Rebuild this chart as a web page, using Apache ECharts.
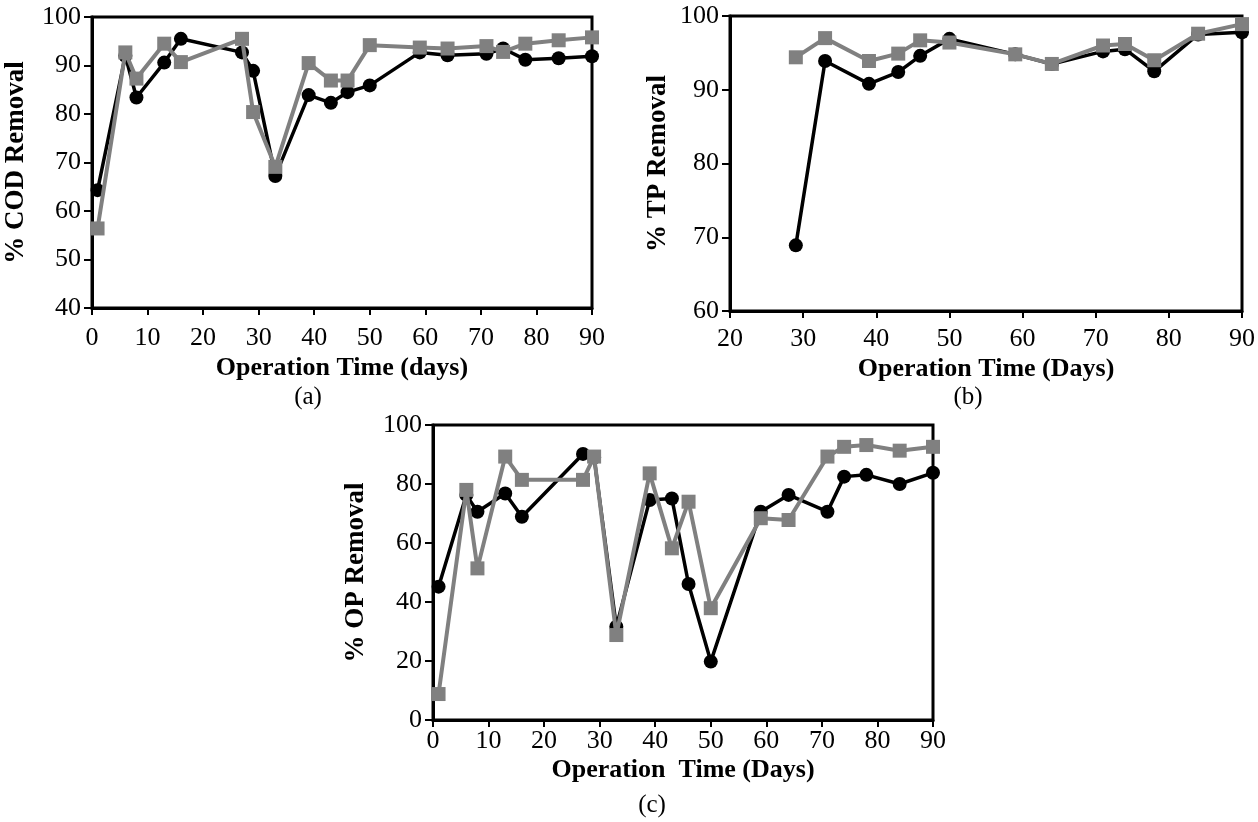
<!DOCTYPE html>
<html>
<head>
<meta charset="utf-8">
<script src="https://cdn.jsdelivr.net/npm/echarts@6/dist/echarts.min.js"></script>
<style>
html,body{margin:0;padding:0;background:#fff;}
#chart{width:1258px;height:822px;}
</style>
</head>
<body>
<div id="chart"></div>
<script>
// ---- data ----
var daysA = [1,6,8,13,16,27,29,33,39,43,46,50,59,64,71,74,78,84,90];
var codBlack = [64.3,92.0,83.4,90.6,95.5,92.7,88.9,67.2,83.9,82.3,84.5,85.9,92.7,92.1,92.4,93.5,91.2,91.5,91.9];
var codGray  = [56.4,92.7,87.3,94.5,90.7,95.5,80.4,69.1,90.5,86.9,86.9,94.2,93.7,93.5,94.0,92.8,94.5,95.2,95.8];

var daysB = [29,33,39,43,46,50,59,64,71,74,78,84,90];
var tpBlack = [68.9,93.9,90.8,92.4,94.6,96.9,94.8,93.5,95.2,95.5,92.5,97.5,97.8];
var tpGray  = [94.4,97.0,93.9,94.9,96.7,96.4,94.8,93.5,96.0,96.2,94.0,97.6,98.9];

var daysC = [1,6,8,13,16,27,29,33,39,43,46,50,59,64,71,74,78,84,90];
var opBlack = [45.2,76.3,70.6,76.8,68.9,90.2,89.0,31.6,74.6,75.1,46.1,19.8,70.6,76.3,70.6,82.5,83.1,80.0,83.8];
var opGray  = [8.8,78.0,51.4,89.3,81.4,81.4,89.3,28.8,83.6,58.2,74.0,37.9,68.4,67.8,89.3,92.6,93.2,91.3,92.6];

var xNames = ['Operation Time (days)', 'Operation Time (Days)', 'Operation  Time (Days)'];
var yNames = ['% COD Removal', '% TP Removal', '% OP Removal'];
var panelLabels = ['(a)', '(b)', '(c)'];

function pairs(xs, ys){ return xs.map(function(x,i){ return [x, ys[i]]; }); }

var SERIF = '"Liberation Serif","Times New Roman",serif';
var GRAY = '#808080';

function xAxis(idx, min, max, name, gap, margin){
  return {
    type:'value', gridIndex:idx, min:min, max:max, interval:10,
    name:name, nameLocation:'middle', nameGap:gap,
    nameTextStyle:{fontFamily:SERIF, fontWeight:'bold', fontSize:26, color:'#000'},
    axisLine:{show:true, onZero:false, lineStyle:{color:'#000', width:3}},
    axisTick:{show:true, length:7, lineStyle:{color:'#000', width:2}},
    axisLabel:{fontFamily:SERIF, fontSize:26, color:'#000', margin:margin},
    splitLine:{show:false}
  };
}
function yAxis(idx, min, max, interval, name, gap){
  return {
    type:'value', gridIndex:idx, min:min, max:max, interval:interval,
    name:name, nameLocation:'middle', nameGap:gap, nameRotate:90,
    nameTextStyle:{fontFamily:SERIF, fontWeight:'bold', fontSize:27, color:'#000'},
    axisLine:{show:true, onZero:false, lineStyle:{color:'#000', width:3}},
    axisTick:{show:true, length:8, lineStyle:{color:'#000', width:2}},
    axisLabel:{fontFamily:SERIF, fontSize:26, color:'#000', margin:11},
    splitLine:{show:false}
  };
}
function blackSeries(idx, data){
  return {type:'line', xAxisIndex:idx, yAxisIndex:idx, data:data,
    symbol:'circle', symbolSize:14, itemStyle:{color:'#000'},
    lineStyle:{color:'#000', width:3.5}, silent:true, animation:false, z:2};
}
function graySeries(idx, data){
  return {type:'line', xAxisIndex:idx, yAxisIndex:idx, data:data,
    symbol:'rect', symbolSize:14, itemStyle:{color:GRAY},
    lineStyle:{color:GRAY, width:4}, silent:true, animation:false, z:3};
}

var gridStyle = {show:true, borderColor:'#000', borderWidth:3, backgroundColor:'transparent'};

var option = {
  backgroundColor:'#fff',
  animation:false,
  grid:[
    Object.assign({left:92, top:17, width:500, height:291}, gridStyle),
    Object.assign({left:730, top:16, width:514, height:295}, gridStyle),
    Object.assign({left:433, top:425, width:500, height:295}, gridStyle)
  ],
  xAxis:[
    xAxis(0, 0, 90, xNames[0], 47, 17),
    xAxis(1, 20, 90, xNames[1], 45, 15),
    xAxis(2, 0, 90, xNames[2], 37, 8)
  ],
  yAxis:[
    yAxis(0, 40, 100, 10, yNames[0], 62),
    yAxis(1, 60, 100, 10, yNames[1], 58),
    yAxis(2, 0, 100, 20, yNames[2], 63)
  ],
  series:[
    blackSeries(0, pairs(daysA, codBlack)),
    graySeries(0, pairs(daysA, codGray)),
    blackSeries(1, pairs(daysB, tpBlack)),
    graySeries(1, pairs(daysB, tpGray)),
    blackSeries(2, pairs(daysC, opBlack)),
    graySeries(2, pairs(daysC, opGray))
  ],
  graphic:[
    {type:'text', x:308, y:397, style:{text:panelLabels[0], font:'25px '+SERIF, fill:'#000', textAlign:'center', textVerticalAlign:'middle'}},
    {type:'text', x:968, y:397, style:{text:panelLabels[1], font:'25px '+SERIF, fill:'#000', textAlign:'center', textVerticalAlign:'middle'}},
    {type:'text', x:652, y:805, style:{text:panelLabels[2], font:'25px '+SERIF, fill:'#000', textAlign:'center', textVerticalAlign:'middle'}}
  ]
};

var chart = echarts.init(document.getElementById('chart'), null, {renderer:'canvas'});
chart.setOption(option);
</script>
</body>
</html>
